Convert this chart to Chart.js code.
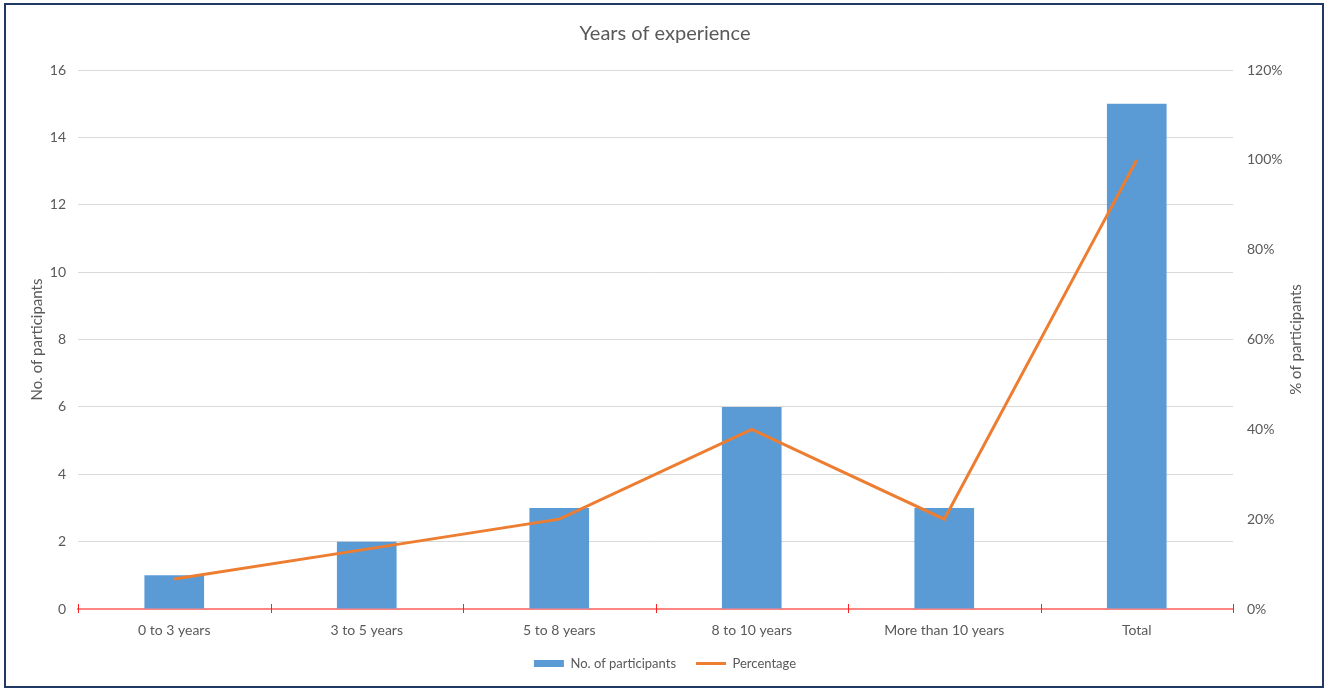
<!DOCTYPE html>
<html>
<head>
<meta charset="utf-8">
<script src="https://cdn.jsdelivr.net/npm/chart.js@4/dist/chart.umd.min.js"></script>
<style>
html,body{margin:0;padding:0;background:#fff;}
#wrap{position:relative;width:1330px;height:690px;}
#c{position:absolute;left:0;top:0;}
#frame{position:absolute;left:4px;top:3px;width:1316px;height:681px;border:2px solid #203864;pointer-events:none;}
</style>
</head>
<body>
<div id="wrap">
<canvas id="c" width="1330" height="690"></canvas>
<div id="frame"></div>
</div>
<script>
const categories = ['0 to 3 years','3 to 5 years','5 to 8 years','8 to 10 years','More than 10 years','Total'];
const participants = [1, 2, 3, 6, 3, 15];
const percentage = [6.67, 13.33, 20, 40, 20, 100];
const leftTicks = [0, 2, 4, 6, 8, 10, 12, 14, 16];
const rightTicks = [0, 20, 40, 60, 80, 100, 120];
const rightTitle = '% of participants';

const FONT = 'Lato, "Noto Sans", sans-serif';
const TXT = '#595959';

const boundaryTicks = {
  id: 'boundaryTicks',
  afterDraw(chart) {
    const xs = chart.scales.x;
    const n = categories.length;
    const y0 = xs.top;
    const ctx = chart.ctx;
    ctx.save();
    ctx.strokeStyle = '#FF2020';
    ctx.lineWidth = 1;
    for (let i = 0; i <= n; i++) {
      const x = Math.round(xs.left + i * (xs.width / n)) + 0.5;
      ctx.beginPath();
      ctx.moveTo(x, y0 - 5);
      ctx.lineTo(x, y0 + 4);
      ctx.stroke();
    }
    ctx.restore();
    // right axis title, reading bottom-to-top
    const r = chart.scales.y1;
    const ca = chart.chartArea;
    ctx.save();
    ctx.fillStyle = TXT;
    ctx.font = '15px ' + FONT;
    ctx.textAlign = 'center';
    ctx.textBaseline = 'middle';
    ctx.translate(r.right - 14, (ca.top + ca.bottom) / 2);
    ctx.rotate(-Math.PI / 2);
    ctx.fillText(rightTitle, 0, 0);
    ctx.restore();
  }
};

new Chart(document.getElementById('c'), {
  data: {
    labels: categories,
    datasets: [
      {
        type: 'bar',
        label: 'No. of participants',
        data: participants,
        backgroundColor: '#5B9BD5',
        borderWidth: 0,
        yAxisID: 'y',
        order: 1,
        barPercentage: 0.62,
        categoryPercentage: 0.5,
        pointStyle: 'rect'
      },
      {
        type: 'line',
        label: 'Percentage',
        data: percentage,
        borderColor: '#ED7D31',
        backgroundColor: '#ED7D31',
        borderWidth: 3,
        tension: 0,
        pointRadius: 0,
        pointHoverRadius: 0,
        yAxisID: 'y1',
        order: 0,
        pointStyle: 'line'
      }
    ]
  },
  options: {
    responsive: false,
    animation: false,
    devicePixelRatio: 1,
    layout: { padding: { top: 22, left: 20, right: 20, bottom: 10 } },
    plugins: {
      tooltip: { enabled: false },
      title: {
        display: true,
        text: 'Years of experience',
        color: TXT,
        font: { family: FONT, size: 20, weight: 'normal', lineHeight: 1.2 },
        padding: { top: 0, bottom: 24 }
      },
      legend: {
        position: 'bottom',
        labels: {
          color: TXT,
          font: { family: FONT, size: 13 },
          usePointStyle: true,
          pointStyleWidth: 30,
          boxHeight: 7,
          padding: 20,
          sort: (a, b) => a.datasetIndex - b.datasetIndex
        }
      }
    },
    scales: {
      x: {
        z: 1,
        grid: { display: true, drawOnChartArea: false, drawTicks: false, offset: true, color: 'rgba(0,0,0,0)' },
        border: { display: true, color: '#FF8585', width: 2 },
        ticks: { color: TXT, font: { family: FONT, size: 14 }, padding: 13, maxRotation: 0 },
        afterFit(s) { s.height = 28; }
      },
      y: {
        position: 'left',
        min: 0, max: 16,
        afterBuildTicks(s) { s.ticks = leftTicks.map(v => ({ value: v })); },
        grid: { color: '#D9D9D9', drawTicks: false, lineWidth: 1 },
        border: { display: false },
        ticks: { color: TXT, font: { family: FONT, size: 14 }, padding: 12 },
        title: { display: true, text: 'No. of participants', color: TXT, font: { family: FONT, size: 15 }, padding: { top: 8, bottom: 0 } },
        afterFit(s) { s.width = 58; }
      },
      y1: {
        position: 'right',
        min: 0, max: 120,
        afterBuildTicks(s) { s.ticks = rightTicks.map(v => ({ value: v })); },
        grid: { drawOnChartArea: false, drawTicks: false },
        border: { display: false },
        ticks: { color: TXT, font: { family: FONT, size: 14 }, padding: 14, callback: v => v + '%' },
        title: { display: false },
        afterFit(s) { s.width = 77; }
      }
    }
  },
  plugins: [boundaryTicks]
});
</script>
</body>
</html>
